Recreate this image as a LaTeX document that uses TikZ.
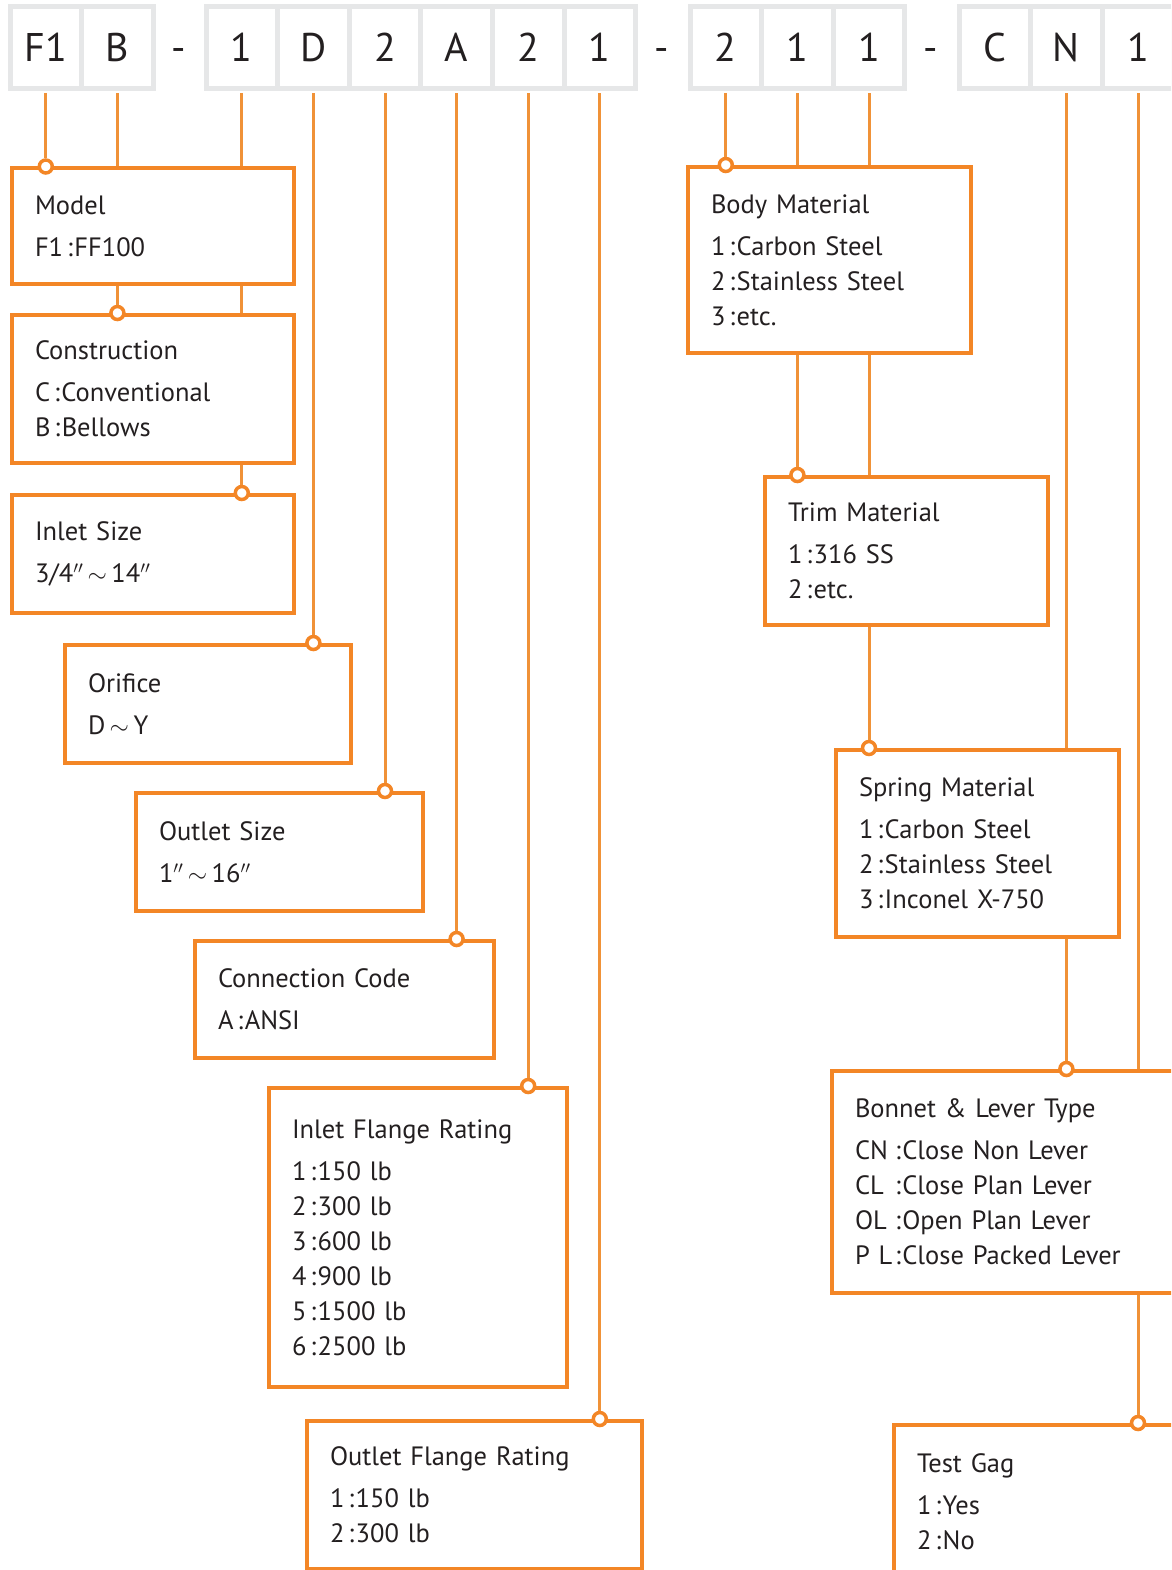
\documentclass[tikz,border=0pt]{standalone}
\usepackage{fontspec}
\setmainfont{PT Sans}
\usetikzlibrary{positioning}

\definecolor{cellgray}{RGB}{230,231,232}
\definecolor{boxorange}{RGB}{243,134,38}
\definecolor{lineorange}{RGB}{240,146,56}
\definecolor{inkdark}{RGB}{35,31,32}

\newcommand{\code}[1]{\makebox[40pt][l]{#1}}
\newcommand{\itemcolon}{\hspace{4pt}:\hspace{1.5pt}}
\newcommand{\inch}{$^{\prime\prime}$}

\tikzset{
  codecell/.style={draw=cellgray, line width=5pt, minimum width=71.6pt,
    minimum height=82pt, inner sep=0pt, text=inkdark,
    text height=28pt, text depth=0pt, font=\fontsize{40}{40}\selectfont},
  dashsign/.style={inner sep=0pt, text=inkdark, text height=28pt,
    text depth=0pt, font=\fontsize{40}{40}\selectfont},
  infobox/.style={draw=boxorange, line width=4pt, anchor=north west,
    inner xsep=23pt, inner ysep=0pt, align=left, text=inkdark,
    font=\fontsize{26.5}{35}\selectfont},
  link/.style={draw=lineorange, line width=3pt},
  joint/.style={circle, draw=boxorange, fill=white, line width=3.5pt,
    minimum size=13pt, inner sep=0pt},
}

\begin{document}
\begin{tikzpicture}[x=1pt, y=-1pt]
\useasboundingbox (0,0) rectangle (1171,1570);
\clip (0,0) rectangle (1171,1570);

% code cells
\foreach \name/\x/\txt in {cmodel/45.8/F1, cconstr/117.4/B,
  csize/241.8/1, corifice/313.4/D, coutlet/385/2, cconn/456.6/A,
  cinfl/528.2/2, coutfl/599.8/1,
  cbody/725.8/2, ctrim/797.4/1, cspring/869/1,
  cbonc/994.8/C, cbonn/1066.4/N, cgag/1138/1}
  \node[codecell] (\name) at (\x,47.5) {\txt};
\node[dashsign] (dash1) at (179,47.5) {-};
\node[dashsign] (dash2) at (662,47.5) {-};
\node[dashsign] (dash3) at (931,47.5) {-};

% left column
\node[infobox, minimum width=281.5pt, minimum height=115pt, text width=235.5pt]
  (model) at (10,166.5) {Model\\[7pt]F1\itemcolon FF100};
\node[infobox, minimum width=281.5pt, minimum height=148pt, text width=235.5pt]
  (constr) at (10,313) {Construction\\[7pt]C\itemcolon Conventional\\B\itemcolon Bellows};
\node[infobox, minimum width=281.5pt, minimum height=118pt, text width=235.5pt]
  (inlet) at (10,493) {Inlet Size\\[7pt]3/4\inch\,$\sim$\,14\inch};
\node[infobox, minimum width=286pt, minimum height=118pt, text width=240pt]
  (orifice) at (63,643) {Orifice\\[7pt]D\,$\sim$\,Y};
\node[infobox, minimum width=287pt, minimum height=118pt, text width=241pt]
  (outlet) at (134,791) {Outlet Size\\[7pt]1\inch\,$\sim$\,16\inch};
\node[infobox, minimum width=299pt, minimum height=117pt, text width=253pt]
  (conn) at (193,939) {Connection Code\\[7pt]A\itemcolon ANSI};
\node[infobox, minimum width=298pt, minimum height=299pt, text width=252pt]
  (infl) at (267,1086) {Inlet Flange Rating\\[7pt]1\itemcolon 150 lb\\2\itemcolon 300 lb\\3\itemcolon 600 lb\\4\itemcolon 900 lb\\5\itemcolon 1500 lb\\6\itemcolon 2500 lb};
\node[infobox, minimum width=335pt, minimum height=148pt, text width=289pt]
  (outfl) at (305,1419) {Outlet Flange Rating\\[7pt]1\itemcolon 150 lb\\2\itemcolon 300 lb};

% right column
\node[infobox, minimum width=283pt, minimum height=186pt, text width=237pt]
  (body) at (686,165) {Body Material\\[7pt]1\itemcolon Carbon Steel\\2\itemcolon Stainless Steel\\3\itemcolon etc.};
\node[infobox, minimum width=283pt, minimum height=148pt, text width=237pt]
  (trim) at (763,475) {Trim Material\\[7pt]1\itemcolon 316 SS\\2\itemcolon etc.};
\node[infobox, minimum width=283pt, minimum height=187pt, text width=237pt]
  (spring) at (834,748) {Spring Material\\[7pt]1\itemcolon Carbon Steel\\2\itemcolon Stainless Steel\\3\itemcolon Inconel X-750};
\node[infobox, minimum width=360pt, minimum height=222pt, text width=314pt]
  (bonnet) at (830,1069) {Bonnet \& Lever Type\\[7pt]\code{CN}:\hspace{1.5pt}Close Non Lever\\\code{CL}:\hspace{1.5pt}Close Plan Lever\\\code{OL}:\hspace{1.5pt}Open Plan Lever\\\code{P L}:\hspace{1.5pt}Close Packed Lever};
\node[infobox, minimum width=300pt, minimum height=153pt, text width=254pt]
  (gag) at (892,1423) {Test Gag\\[7pt]1\itemcolon Yes\\2\itemcolon No};

% joints
\node[joint] (j1) at (cmodel.south |- model.north) {};
\node[joint] (j2) at (cconstr.south |- constr.north) {};
\node[joint] (j3) at (csize.south |- inlet.north) {};
\node[joint] (j4) at (corifice.south |- orifice.north) {};
\node[joint] (j5) at (coutlet.south |- outlet.north) {};
\node[joint] (j6) at (cconn.south |- conn.north) {};
\node[joint] (j7) at (cinfl.south |- infl.north) {};
\node[joint] (j8) at (coutfl.south |- outfl.north) {};
\node[joint] (j9) at (cbody.south |- body.north) {};
\node[joint] (j10) at (ctrim.south |- trim.north) {};
\node[joint] (j11) at (cspring.south |- spring.north) {};
\node[joint] (j12) at (cbonn.south |- bonnet.north) {};
\node[joint] (j13) at (cgag.south |- gag.north) {};

% links
\draw[link, shorten <=2.5pt] (cmodel.south) -- (j1);
\draw[link, shorten <=2.5pt] (cconstr.south) -- (cconstr.south |- model.north);
\draw[link] (cconstr.south |- model.south) -- (j2);
\draw[link, shorten <=2.5pt] (csize.south) -- (csize.south |- model.north);
\draw[link] (csize.south |- model.south) -- (csize.south |- constr.north);
\draw[link] (csize.south |- constr.south) -- (j3);
\draw[link, shorten <=2.5pt] (corifice.south) -- (j4);
\draw[link, shorten <=2.5pt] (coutlet.south) -- (j5);
\draw[link, shorten <=2.5pt] (cconn.south) -- (j6);
\draw[link, shorten <=2.5pt] (cinfl.south) -- (j7);
\draw[link, shorten <=2.5pt] (coutfl.south) -- (j8);
\draw[link, shorten <=2.5pt] (cbody.south) -- (j9);
\draw[link, shorten <=2.5pt] (ctrim.south) -- (ctrim.south |- body.north);
\draw[link] (ctrim.south |- body.south) -- (j10);
\draw[link, shorten <=2.5pt] (cspring.south) -- (cspring.south |- body.north);
\draw[link] (cspring.south |- body.south) -- (cspring.south |- trim.north);
\draw[link] (cspring.south |- trim.south) -- (j11);
\draw[link, shorten <=2.5pt] (cbonn.south) -- (cbonn.south |- spring.north);
\draw[link] (cbonn.south |- spring.south) -- (j12);
\draw[link, shorten <=2.5pt] (cgag.south) -- (cgag.south |- bonnet.north);
\draw[link] (cgag.south |- bonnet.south) -- (j13);
\end{tikzpicture}
\end{document}
